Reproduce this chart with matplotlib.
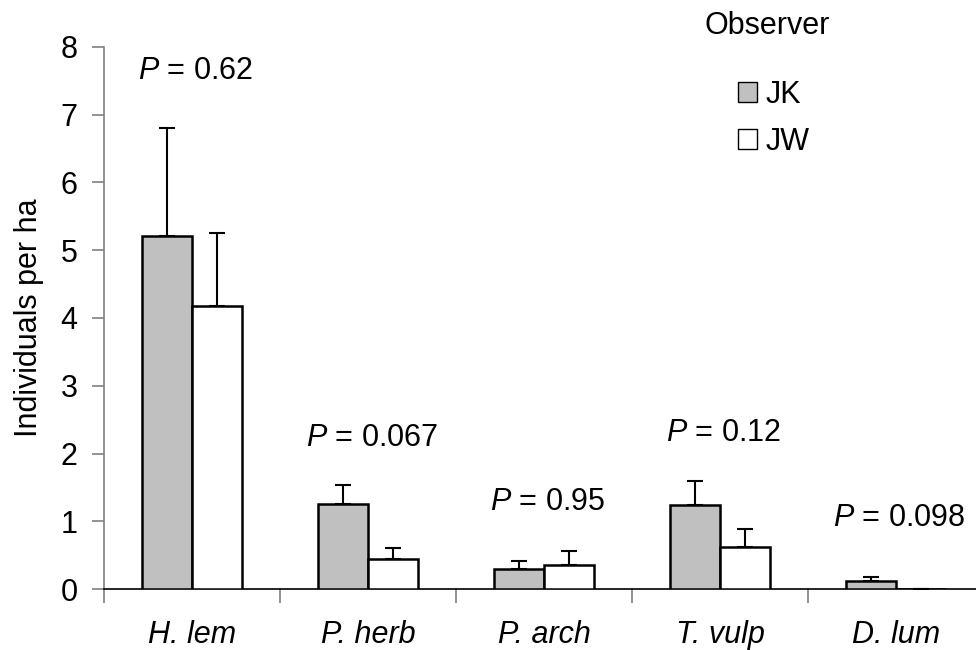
import matplotlib.pyplot as plt
import numpy as np
from matplotlib.patches import Patch

plt.rcParams['font.family'] = ['Liberation Sans', 'DejaVu Sans']
plt.rcParams['mathtext.fontset'] = 'custom'
plt.rcParams['mathtext.it'] = 'Liberation Sans:italic'
plt.rcParams['mathtext.rm'] = 'Liberation Sans'

species = ['H. lem', 'P. herb', 'P. arch', 'T. vulp', 'D. lum']
jk_mean = [5.21, 1.25, 0.29, 1.24, 0.12]
jk_err = [1.59, 0.29, 0.12, 0.36, 0.06]
jw_mean = [4.17, 0.45, 0.36, 0.62, 0.0]
jw_err = [1.09, 0.15, 0.20, 0.27, 0.0]
p_labels = ['0.62', '0.067', '0.95', '0.12', '0.098']
p_heights = [7.65, 2.23, 1.28, 2.3, 1.05]

fs = 22

fig = plt.figure(figsize=(9.76, 6.5), dpi=100)
ax = fig.add_axes([0.1066, 0.0938, 0.9016, 0.834])

x = np.arange(len(species))
w = 0.284
ax.bar(x - w / 2, jk_mean, w, color='#c0c0c0', edgecolor='black', linewidth=1.8, label='JK', zorder=3)
ax.bar(x + w / 2, jw_mean, w, color='white', edgecolor='black', linewidth=1.8, label='JW', zorder=3)
ax.errorbar(x - w / 2, jk_mean, yerr=[np.zeros(5), jk_err], fmt='none', ecolor='black',
            elinewidth=1.5, capsize=6, capthick=1.5, zorder=2)
ax.errorbar(x + w / 2, jw_mean, yerr=[np.zeros(5), jw_err], fmt='none', ecolor='black',
            elinewidth=1.5, capsize=6, capthick=1.5, zorder=2)

for i in range(len(species)):
    ax.text(x[i] + 0.02, p_heights[i], r'$P$ = ' + p_labels[i], ha='center', va='center',
            fontsize=fs)

ax.set_xlim(-0.5, 4.5)
ax.set_ylim(0, 8)
ax.set_yticks(range(9))
ax.set_xticks(np.arange(-0.5, 5, 1))
ax.set_xticklabels([])
ax.set_xticks(x, minor=True)
ax.set_xticklabels(species, minor=True, fontstyle='italic', fontsize=fs)
ax.tick_params(axis='x', which='minor', length=0, pad=22)
ax.tick_params(axis='x', which='major', length=10, color='#808080', width=1.2)
ax.tick_params(axis='y', length=9, color='#808080', width=1.2, labelsize=fs, pad=10)
for s in ['top', 'right']:
    ax.spines[s].set_visible(False)
ax.spines['left'].set_color('#808080')
ax.spines['left'].set_linewidth(1.2)
ax.spines['bottom'].set_linewidth(1.2)
ax.set_ylabel('Individuals per ha', fontsize=fs, labelpad=12)

fig.text(0.722, 0.96, 'Observer', fontsize=fs, va='center')
handles = [Patch(facecolor='#c0c0c0', edgecolor='black', label='JK'),
           Patch(facecolor='white', edgecolor='black', label='JW')]
fig.legend(handles=handles, loc='upper left', bbox_to_anchor=(0.756, 0.877), frameon=False,
           fontsize=fs, handlelength=0.62, handleheight=0.62, handletextpad=0.3, labelspacing=0.55,
           borderaxespad=0, borderpad=0)

fig.savefig('out.png', dpi=100)
